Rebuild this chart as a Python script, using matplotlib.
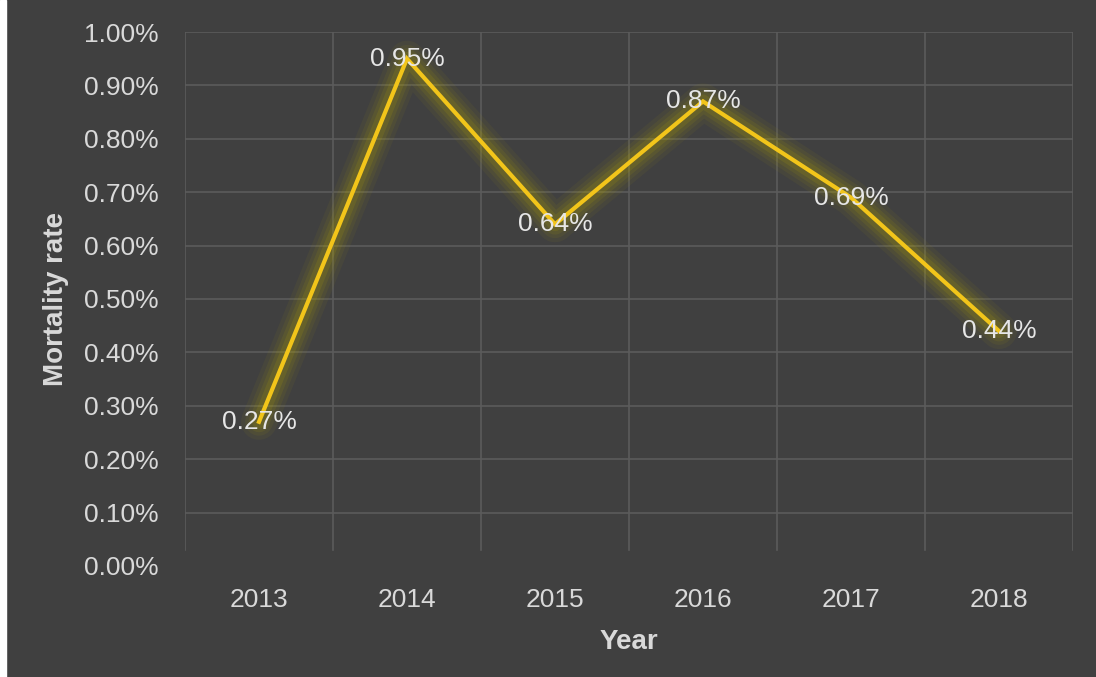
import matplotlib.pyplot as plt
import matplotlib.patches as mpatches
from matplotlib.ticker import FuncFormatter

# Mortality rate by year (percent)
years = ['2013', '2014', '2015', '2016', '2017', '2018']
mortality = [0.27, 0.95, 0.64, 0.87, 0.69, 0.44]

bg = '#404040'
grid_col = '#5b5b5b'
text_col = '#d9d9d9'
line_col = '#f2c51a'

plt.rcParams['font.family'] = ['Liberation Sans', 'DejaVu Sans']

fig = plt.figure(figsize=(10.96, 6.77), dpi=100, facecolor=bg)
ax = fig.add_axes([0.1688, 0.164, 0.8102, 0.7887])
ax.set_facecolor(bg)

# thin white strip on the left edge
fig.patches.append(mpatches.Rectangle((0, 0), 0.0055, 1, transform=fig.transFigure,
                                      color='white', zorder=0))

x = list(range(len(years)))

# soft glow under the line
for lw, a in [(26, 0.06), (20, 0.08), (15, 0.10), (10, 0.14)]:
    ax.plot(x, mortality, color='#b8a800', lw=lw, alpha=a,
            solid_capstyle='round', solid_joinstyle='round', zorder=2)
ax.plot(x, mortality, color=line_col, lw=3, solid_joinstyle='miter', zorder=3)

for xi, v in zip(x, mortality):
    ax.text(xi, v, f'{v:.2f}%', ha='center', va='center', fontsize=19,
            color='#e6e6e6', zorder=4)

ax.set_xlim(-0.5, len(years) - 0.5)
ax.set_ylim(0, 1.0)
ax.set_xticks(x)
ax.set_xticklabels(years)
ax.set_yticks([i / 10 for i in range(11)])
ax.yaxis.set_major_formatter(FuncFormatter(lambda v, p: f'{v:.2f}%'))

# gridlines: horizontal at each tick, vertical between categories
for i in range(1, 11):
    ax.axhline(i / 10, color=grid_col, lw=1.2, zorder=1)
for b in range(len(years) + 1):
    ax.axvline(b - 0.5, ymin=0.03, color=grid_col, lw=1.2, zorder=1)

for s in ax.spines.values():
    s.set_visible(False)
ax.tick_params(length=0, colors=text_col, labelsize=19)
ax.tick_params(axis='y', pad=19)
ax.tick_params(axis='x', pad=16)

ax.set_xlabel('Year', fontsize=20, fontweight='bold', color=text_col, labelpad=12)
ax.set_ylabel('Mortality rate', fontsize=20, fontweight='bold', color=text_col, labelpad=11)

fig.savefig('out.png', dpi=100, facecolor=bg)
